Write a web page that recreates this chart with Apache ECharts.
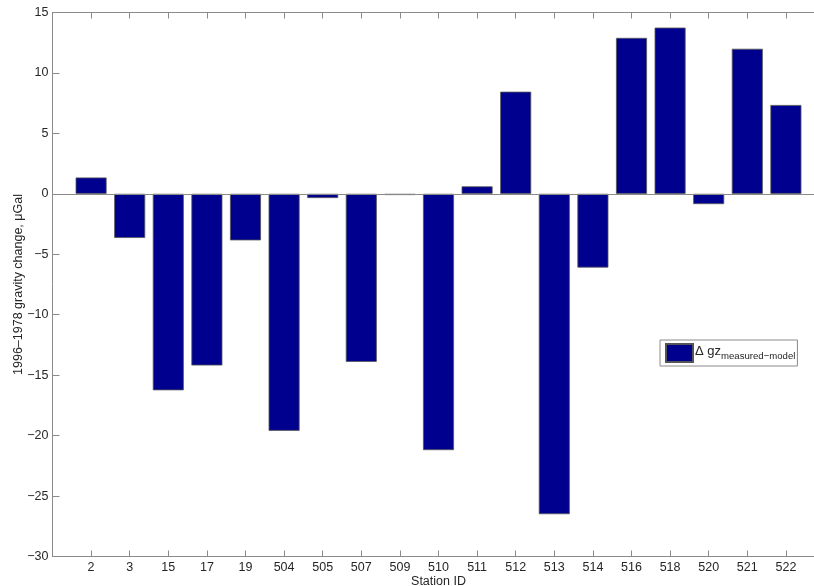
<!DOCTYPE html>
<html>
<head>
<meta charset="utf-8">
<script src="https://cdn.jsdelivr.net/npm/echarts@6/dist/echarts.min.js"></script>
<style>
  html, body { margin: 0; padding: 0; background: #fff; }
  #chart { width: 814px; height: 586px; }
</style>
</head>
<body>
<div id="chart"></div>
<script>
// Station identifiers along the horizontal axis
const stations = ['2', '3', '15', '17', '19', '504', '505', '507', '509', '510',
                  '511', '512', '513', '514', '516', '518', '520', '521', '522'];
// Measured minus modelled gravity change, 1996–1978 (µGal)
const deltaGz = [1.35, -3.65, -16.25, -14.2, -3.85, -19.6, -0.35, -13.9, -0.1, -21.2,
                 0.62, 8.45, -26.5, -6.1, 12.9, 13.75, -0.85, 12.0, 7.35];
// Vertical axis ticks
const yTicks = [-30, -25, -20, -15, -10, -5, 0, 5, 10, 15];

const axisGray = '#8a8a8a';
const textGray = '#262626';
const barBlue = '#00008f';
const font = 'Liberation Sans, Arial, Helvetica, sans-serif';

const chart = echarts.init(document.getElementById('chart'), null, { renderer: 'canvas' });

const xCommon = {
  type: 'value',
  min: 0,
  max: 20,
  interval: 1,
  splitLine: { show: false },
  axisLine: { show: true, onZero: false, lineStyle: { color: axisGray, width: 1 } },
  axisTick: { show: true, inside: true, length: 6, lineStyle: { color: axisGray } }
};

chart.setOption({
  animation: false,
  backgroundColor: '#fff',
  textStyle: { fontFamily: font },
  grid: {
    left: 52.5, right: -10.5, top: 12.5, bottom: 29.5,
    containLabel: false,
    outerBoundsMode: 'none'
  },
  legend: {
    show: true,
    left: 660,
    top: 340,
    orient: 'vertical',
    itemWidth: 27,
    itemHeight: 18,
    itemGap: 0,
    padding: [3, 2, 3, 5],
    borderColor: axisGray,
    borderWidth: 1,
    backgroundColor: '#fff',
    selectedMode: false,
    data: [{ name: 'dgz', icon: 'rect' }],
    formatter: () => '{a|Δ gz}{b|measured−model}',
    textStyle: {
      color: textGray,
      fontFamily: font,
      rich: {
        a: { fontSize: 13, fontFamily: font, color: textGray, padding: [0, 0, 4, -3] },
        b: { fontSize: 9.6, fontFamily: font, color: textGray, padding: [7, 0, 0, 0] }
      }
    }
  },
  xAxis: [
    Object.assign({}, xCommon, {
      position: 'bottom',
      name: 'Station ID',
      nameLocation: 'middle',
      nameGap: 19,
      nameMoveOverlap: false,
      nameTextStyle: { color: textGray, fontSize: 12.5, fontFamily: font },
      axisLabel: {
        show: true,
        margin: 5,
        color: textGray,
        fontSize: 12.5,
        fontFamily: font,
        showMinLabel: true,
        showMaxLabel: true,
        formatter: v => (v >= 1 && v <= stations.length ? stations[v - 1] : '')
      }
    }),
    Object.assign({}, xCommon, {
      position: 'top',
      axisLabel: { show: false }
    })
  ],
  yAxis: {
    type: 'value',
    min: yTicks[0],
    max: yTicks[yTicks.length - 1],
    interval: 5,
    name: '1996–1978 gravity change, μGal',
    nameLocation: 'middle',
    nameGap: 27,
    nameMoveOverlap: false,
    nameTextStyle: { color: textGray, fontSize: 12.5, fontFamily: font },
    splitLine: { show: false },
    axisLine: { show: true, lineStyle: { color: axisGray, width: 1 } },
    axisTick: { show: true, inside: true, length: 7, lineStyle: { color: axisGray } },
    axisLabel: {
      color: textGray,
      fontSize: 12.5,
      fontFamily: font,
      margin: 4,
      formatter: v => String(v).replace('-', '−')
    }
  },
  series: [{
    name: 'dgz',
    type: 'bar',
    xAxisIndex: 0,
    barWidth: 31,
    itemStyle: { color: barBlue, borderColor: '#555', borderWidth: 0.8 },
    data: deltaGz.map((v, i) => [i + 1, v]),
    markLine: {
      silent: true,
      symbol: 'none',
      label: { show: false },
      lineStyle: { color: axisGray, width: 1, type: 'solid' },
      data: [{ yAxis: 0 }]
    }
  }]
});
</script>
</body>
</html>
